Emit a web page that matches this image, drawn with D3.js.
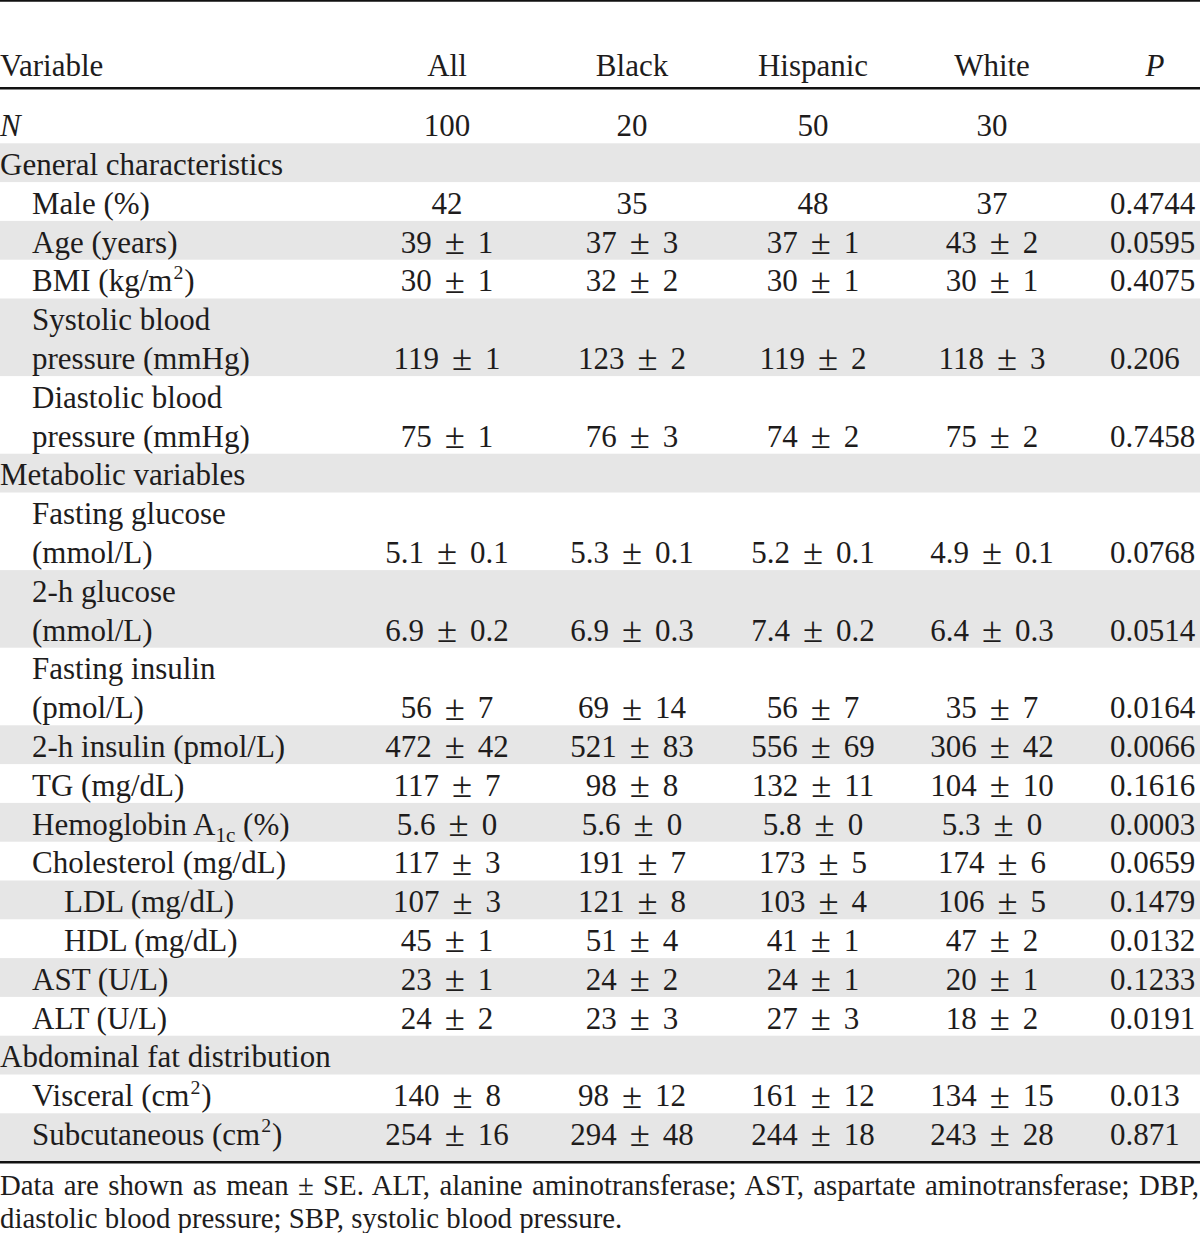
<!DOCTYPE html>
<html><head><meta charset="utf-8">
<script src="https://cdn.jsdelivr.net/npm/d3@7"></script>
<style>html,body{margin:0;padding:0;background:#fff;} svg{display:block;}</style>
</head><body>
<svg id="t" width="1200" height="1233"></svg>
<script>
// ---------- DATA ----------
const headers = ["Variable", "All", "Black", "Hispanic", "White", "P"];
const groups = ["All", "Black", "Hispanic", "White"];

const rowLabels = [
  ["N"],
  ["General characteristics"],
  ["Male (%)"],
  ["Age (years)"],
  ["BMI (kg/m^2)"],
  ["Systolic blood", "pressure (mmHg)"],
  ["Diastolic blood", "pressure (mmHg)"],
  ["Metabolic variables"],
  ["Fasting glucose", "(mmol/L)"],
  ["2-h glucose", "(mmol/L)"],
  ["Fasting insulin", "(pmol/L)"],
  ["2-h insulin (pmol/L)"],
  ["TG (mg/dL)"],
  ["Hemoglobin A_{1c} (%)"],
  ["Cholesterol (mg/dL)"],
  ["LDL (mg/dL)"],
  ["HDL (mg/dL)"],
  ["AST (U/L)"],
  ["ALT (U/L)"],
  ["Abdominal fat distribution"],
  ["Visceral (cm^2)"],
  ["Subcutaneous (cm^2)"]
];
const rowLevels = [0, 0, 1, 1, 1, 1, 1, 0, 1, 1, 1, 1, 1, 1, 1, 2, 2, 1, 1, 0, 1, 1];
const italicLabels = ["N"];

const allValues = ["100", null, "42", "39 ± 1", "30 ± 1", "119 ± 1", "75 ± 1", null,
  "5.1 ± 0.1", "6.9 ± 0.2", "56 ± 7", "472 ± 42", "117 ± 7", "5.6 ± 0", "117 ± 3",
  "107 ± 3", "45 ± 1", "23 ± 1", "24 ± 2", null, "140 ± 8", "254 ± 16"];
const blackValues = ["20", null, "35", "37 ± 3", "32 ± 2", "123 ± 2", "76 ± 3", null,
  "5.3 ± 0.1", "6.9 ± 0.3", "69 ± 14", "521 ± 83", "98 ± 8", "5.6 ± 0", "191 ± 7",
  "121 ± 8", "51 ± 4", "24 ± 2", "23 ± 3", null, "98 ± 12", "294 ± 48"];
const hispanicValues = ["50", null, "48", "37 ± 1", "30 ± 1", "119 ± 2", "74 ± 2", null,
  "5.2 ± 0.1", "7.4 ± 0.2", "56 ± 7", "556 ± 69", "132 ± 11", "5.8 ± 0", "173 ± 5",
  "103 ± 4", "41 ± 1", "24 ± 1", "27 ± 3", null, "161 ± 12", "244 ± 18"];
const whiteValues = ["30", null, "37", "43 ± 2", "30 ± 1", "118 ± 3", "75 ± 2", null,
  "4.9 ± 0.1", "6.4 ± 0.3", "35 ± 7", "306 ± 42", "104 ± 10", "5.3 ± 0", "174 ± 6",
  "106 ± 5", "47 ± 2", "20 ± 1", "18 ± 2", null, "134 ± 15", "243 ± 28"];
const pValues = [null, null, "0.4744", "0.0595", "0.4075", "0.206", "0.7458", null,
  "0.0768", "0.0514", "0.0164", "0.0066", "0.1616", "0.0003", "0.0659",
  "0.1479", "0.0132", "0.1233", "0.0191", null, "0.013", "0.871"];

const footnoteLines = [
  "Data are shown as mean ± SE. ALT, alanine aminotransferase; AST, aspartate aminotransferase; DBP,",
  "diastolic blood pressure; SBP, systolic blood pressure."
];

// ---------- LAYOUT ----------
const W = 1200;
const FONT = "'Liberation Serif', 'Times New Roman', serif";
const FS = 31, FS_NOTE = 28.8;
const INK = "#1e1c1c";
const SHADE = "#e6e6e6";
const LINE_H = 38.8;
const BODY_TOP = 143.3;          // top of first body line (General characteristics)
const BASE_OFF = 31.6;           // baseline offset within a line
const valuesByGroup = { All: allValues, Black: blackValues, Hispanic: hispanicValues, White: whiteValues };

const xCol = d3.scaleOrdinal().domain(groups).range([447, 632, 813, 992]);
const xIndent = d3.scaleLinear().domain([0, 1]).range([0, 32]);
const pX = 1110, pHeaderX = 1155;

const lineCounts = rowLabels.map(l => l.length);
const startLine = [];
{ let acc = -1; lineCounts.forEach((c) => { startLine.push(acc); acc += c; }); }
const totalLines = d3.sum(lineCounts) - 1;
const yLine = d3.scaleLinear().domain([0, totalLines]).range([BODY_TOP, BODY_TOP + totalLines * LINE_H]);

const svg = d3.select("#t").attr("font-family", FONT).attr("fill", INK);

// shading
const bottomRuleY = 1162.2;
svg.append("g").selectAll("rect")
  .data(rowLabels.map((l, i) => i).filter(i => i % 2 === 1))
  .join("rect")
  .attr("x", 0).attr("width", W)
  .attr("y", i => yLine(startLine[i]))
  .attr("height", i => i === rowLabels.length - 1
      ? bottomRuleY - 1.2 - yLine(startLine[i])
      : lineCounts[i] * LINE_H)
  .attr("fill", SHADE);

// rules
const rules = [{ y: 0.8, w: 1.8 }, { y: 88.3, w: 2.6 }, { y: bottomRuleY, w: 2.6 }];
svg.append("g").selectAll("line").data(rules).join("line")
  .attr("x1", 0).attr("x2", W).attr("y1", d => d.y).attr("y2", d => d.y)
  .attr("stroke", "#111").attr("stroke-width", d => d.w);

// header
const headerBase = 75.5;
const hg = svg.append("g").attr("font-size", FS);
hg.append("text").attr("x", 0).attr("y", headerBase).text(headers[0]);
groups.forEach(g => hg.append("text").attr("x", xCol(g)).attr("y", headerBase)
  .attr("text-anchor", "middle").text(g));
hg.append("text").attr("x", pHeaderX).attr("y", headerBase).attr("text-anchor", "middle")
  .attr("font-style", "italic").text(headers[5]);

// label rendering with ^sup and _{sub}
function richText(sel, str) {
  const re = /\^(\w)|_\{([^}]*)\}/g;
  let last = 0, m;
  while ((m = re.exec(str)) !== null) {
    if (m.index > last) sel.append("tspan").text(str.slice(last, m.index));
    if (m[1]) sel.append("tspan").attr("font-size", FS * 0.64).attr("dy", -12.5).attr("dx", 1).text(m[1]);
    else sel.append("tspan").attr("font-size", FS * 0.68).attr("dy", 7).text(m[2]);
    const shift = m[1] ? 12.5 : -7;
    last = re.lastIndex;
    if (last < str.length) {
      sel.append("tspan").attr("dy", shift).attr("dx", m[1] ? 1 : 0).text(str.slice(last, last + 1));
      last += 1;
    }
  }
  if (last < str.length) sel.append("tspan").text(str.slice(last));
}

// value with a larger ± glyph
function valueText(sel, str) {
  const parts = str.split(" ± ");
  sel.append("tspan").text(parts[0]);
  if (parts.length > 1) {
    sel.append("tspan").attr("font-size", FS * 1.18).attr("dx", 13).attr("dy", 1.5).text("±");
    sel.append("tspan").attr("dx", 13).attr("dy", -1.5).text(parts[1]);
  }
}

const body = svg.append("g").attr("font-size", FS);
rowLabels.forEach((lines, i) => {
  lines.forEach((ln, k) => {
    const y = yLine(startLine[i] + k) + BASE_OFF;
    const t = body.append("text").attr("x", xIndent(rowLevels[i])).attr("y", y);
    if (italicLabels.includes(ln)) t.attr("font-style", "italic");
    richText(t, ln);
  });
  const yv = yLine(startLine[i] + lines.length - 1) + BASE_OFF;
  groups.forEach(g => {
    const v = valuesByGroup[g][i];
    if (v == null) return;
    const t = body.append("text").attr("x", xCol(g)).attr("y", yv).attr("text-anchor", "middle");
    valueText(t, v);
  });
  if (pValues[i] != null) {
    body.append("text").attr("x", pX).attr("y", yv).text(pValues[i]);
  }
});

// footnote
const notes = svg.append("g").attr("font-size", FS_NOTE);
const noteBase = [1195, 1228];
footnoteLines.forEach((ln, k) => {
  const t = notes.append("text").attr("x", 0).attr("y", noteBase[k]).text(ln);
  if (k === 0) {
    const natural = t.node().getComputedTextLength();
    const spaces = (ln.match(/ /g) || []).length;
    t.attr("word-spacing", (W - 1 - natural) / spaces);
  }
});
</script>
</body></html>
